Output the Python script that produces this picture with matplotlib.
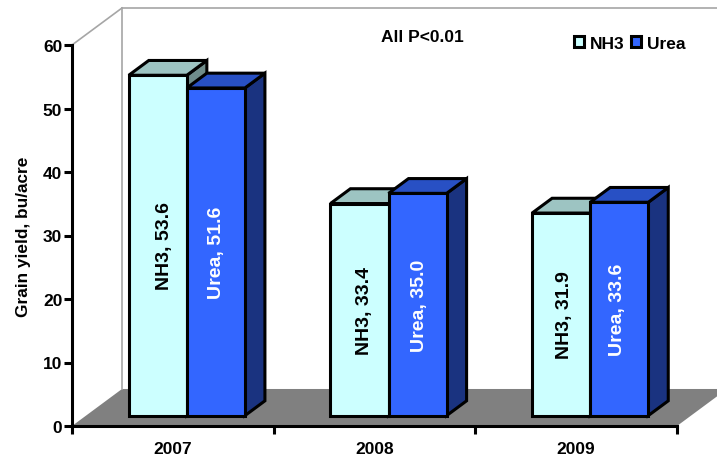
import matplotlib
matplotlib.use("Agg")
import matplotlib.pyplot as plt
from matplotlib.patches import Polygon, Patch

plt.rcParams['font.family'] = ['Liberation Sans', 'DejaVu Sans']
plt.rcParams['font.weight'] = 'bold'

years = ['2007', '2008', '2009']
series = ['NH3', 'Urea']
nh3 = [53.6, 33.4, 31.9]
urea = [51.6, 35.0, 33.6]

W, H = 717, 464
front_colors = ['#ccffff', '#3366ff']
top_colors = ['#9dc4c2', '#2850c4']
side_colors = ['#6f8c8a', '#1a3380']
# small nudges of the in-bar labels, in x data units
label_nudge = [[0.035, 0.005], [0.025, 0.01], [0.015, -0.01]]

fig = plt.figure(figsize=(W / 100, H / 100), dpi=100)
ax = fig.add_axes([72 / W, 1 - 427 / H, 605 / W, 381 / H])
ax.set_xlim(0, 3)
ax.set_ylim(0, 60)

# full depth of the fake 3d box, in data units
DX, DY = 0.248, 5.83
BAR_W = 0.288
# bars sit 28% of the way in, and take 40% of the depth
START, DEPTH = 0.28, 0.40


def poly(pts, **kw):
    ax.add_patch(Polygon(pts, closed=True, clip_on=False, **kw))


# floor and back wall
poly([(0, 0), (DX, DY), (3 + DX, DY), (3, 0)], facecolor='#808080', edgecolor='none', zorder=1)
wall = dict(color='#a6a6a6', lw=1.2, clip_on=False, zorder=1)
ax.plot([0, DX], [60, 60 + DY], **wall)
ax.plot([DX, DX], [DY, 60 + DY], **wall)
ax.plot([DX, 3 + DX], [60 + DY, 60 + DY], **wall)


def bar3d(x, val, i):
    x0 = x + START * DX
    y0 = START * DY
    dx = DEPTH * DX
    dy = DEPTH * DY
    top = y0 + val
    kw = dict(edgecolor='black', lw=2.2, zorder=3)
    poly([(x0 + BAR_W, y0), (x0 + BAR_W + dx, y0 + dy), (x0 + BAR_W + dx, top + dy), (x0 + BAR_W, top)],
         facecolor=side_colors[i], **kw)
    poly([(x0, top), (x0 + dx, top + dy), (x0 + BAR_W + dx, top + dy), (x0 + BAR_W, top)],
         facecolor=top_colors[i], **kw)
    poly([(x0, y0), (x0, top), (x0 + BAR_W, top), (x0 + BAR_W, y0)],
         facecolor=front_colors[i], **kw)
    return x0 + BAR_W / 2, y0 + val / 2


for g in range(len(years)):
    for i, vals in enumerate([nh3, urea]):
        x = g + 0.5 - BAR_W + i * BAR_W
        cx, cy = bar3d(x, vals[g], i)
        ax.text(cx + label_nudge[g][i], cy, f'{series[i]}, {vals[g]:.1f}', rotation=90, ha='center', va='center',
                fontsize=14, color='black' if i == 0 else 'white', zorder=5)

# axes
for s in ['top', 'right']:
    ax.spines[s].set_visible(False)
for s in ['left', 'bottom']:
    ax.spines[s].set_linewidth(2.2)
    ax.spines[s].set_zorder(4)
ax.patch.set_alpha(0)
ax.set_yticks(range(0, 61, 10))
ax.set_xticks([0, 1, 2, 3])
ax.set_xticklabels([])
ax.set_xticks([0.5, 1.5, 2.5], minor=True)
ax.set_xticklabels(years, minor=True)
ax.tick_params(axis='both', which='major', length=5.5, width=2.2, labelsize=12.5, pad=1.5)
ax.tick_params(axis='x', which='minor', length=0, labelsize=12.5, pad=10.5)
ax.set_ylabel('Grain yield, bu/acre', fontsize=12.4, fontweight='bold')
ax.yaxis.set_label_coords(-41 / 605, 0.5)

ax.text(1.735, 61.3, 'All P<0.01', ha='center', va='center', fontsize=12.5)

handles = [Patch(facecolor=c, edgecolor='black', lw=2.2) for c in front_colors]
ax.legend(handles, series, ncol=2, frameon=False, fontsize=12.5, loc='center',
          bbox_to_anchor=(0.9215, 1.004), handlelength=0.6, handleheight=0.6,
          handletextpad=0.3, columnspacing=0.4, borderpad=0, borderaxespad=0)

fig.savefig('out.png', dpi=100)
